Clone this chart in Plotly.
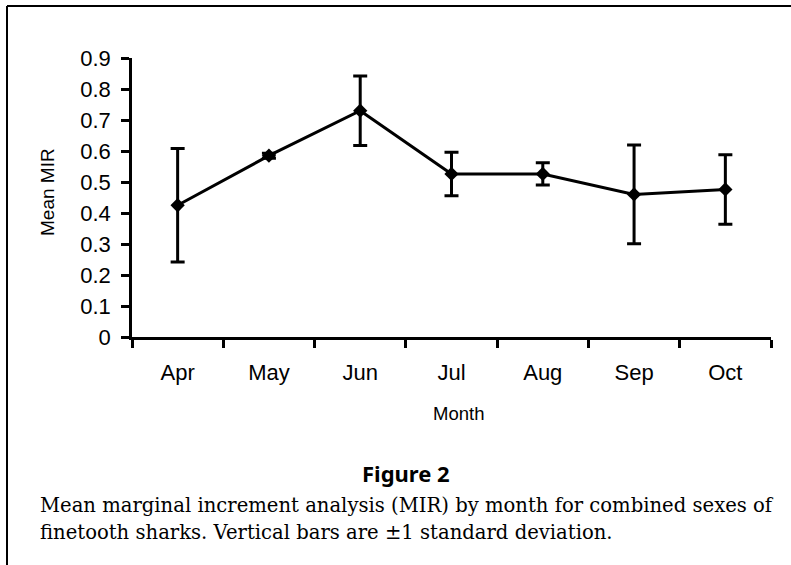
import plotly.graph_objects as go

months = ["Apr", "May", "Jun", "Jul", "Aug", "Sep", "Oct"]
mean_mir = [0.425, 0.585, 0.730, 0.526, 0.526, 0.460, 0.476]
sd_mir = [0.183, 0.008, 0.112, 0.070, 0.036, 0.159, 0.112]
y_ticks = [0, 0.1, 0.2, 0.3, 0.4, 0.5, 0.6, 0.7, 0.8, 0.9]

W, H = 791, 565
ML, MR, MT, MB = 132, 20, 58, 228
PW, PH = W - ML - MR, H - MT - MB


def px(x):
    return (x - ML) / PW


def py(y):
    return (H - MB - y) / PH


fig = go.Figure()
fig.add_trace(go.Scatter(
    x=months, y=mean_mir,
    mode="lines+markers",
    line=dict(color="black", width=3),
    marker=dict(symbol="diamond", size=11, color="black"),
    error_y=dict(type="data", array=sd_mir, visible=True,
                 color="black", thickness=3, width=7),
    showlegend=False,
    hoverinfo="skip",
))

axis_font = dict(family="Liberation Sans, Arial, sans-serif", size=22, color="black")

fig.update_layout(
    width=W, height=H,
    margin=dict(l=ML, r=MR, t=MT, b=MB, pad=0),
    paper_bgcolor="white", plot_bgcolor="white",
    xaxis=dict(
        type="category", range=[-0.5, 6.5],
        showline=True, linecolor="black", linewidth=2.5,
        ticks="outside", tickson="boundaries", ticklen=8, tickwidth=2.5,
        tickcolor="black", showgrid=False, zeroline=False,
        tickfont=axis_font, ticklabelstandoff=14,
    ),
    yaxis=dict(
        range=[0, 0.9], tickvals=y_ticks,
        showline=True, linecolor="black", linewidth=2.5,
        ticks="outside", ticklen=8, tickwidth=2.5, tickcolor="black",
        showgrid=False, zeroline=False,
        tickfont=axis_font, ticklabelstandoff=6,
    ),
    annotations=[
        dict(text="Mean MIR", x=px(47), y=py(192), xref="paper", yref="paper",
             xanchor="center", yanchor="middle",
             textangle=-90, showarrow=False,
             font=dict(family="Liberation Sans, Arial, sans-serif", size=19, color="black")),
        dict(text="Month", x=px(458), y=py(413), xref="paper", yref="paper",
             xanchor="center", yanchor="middle", showarrow=False,
             font=dict(family="Liberation Sans, Arial, sans-serif", size=18.5, color="black")),
        dict(text="<b>Figure 2</b>", x=px(406), y=py(473), xref="paper", yref="paper",
             xanchor="center", yanchor="middle", showarrow=False,
             font=dict(family="Noto Sans, Open Sans, sans-serif", size=22, color="black")),
        dict(text="Mean marginal increment analysis (MIR) by month for combined sexes of",
             x=px(38), y=py(505), xref="paper", yref="paper",
             xanchor="left", yanchor="middle", showarrow=False,
             font=dict(family="DejaVu Serif, serif", size=19.6, color="black")),
        dict(text="finetooth sharks. Vertical bars are \u00b11 standard deviation.",
             x=px(38), y=py(532), xref="paper", yref="paper",
             xanchor="left", yanchor="middle", showarrow=False,
             font=dict(family="DejaVu Serif, serif", size=19.6, color="black")),
    ],
    shapes=[
        dict(type="line", xref="paper", yref="paper",
             x0=px(7), y0=py(6), x1=px(W + 5), y1=py(6),
             line=dict(color="black", width=2)),
        dict(type="line", xref="paper", yref="paper",
             x0=px(7), y0=py(6), x1=px(7), y1=py(H + 5),
             line=dict(color="black", width=2)),
    ],
)

fig.write_html("out.html",
               config={"displayModeBar": False},
               post_script="document.body.style.margin='0';document.body.style.padding='0';")
